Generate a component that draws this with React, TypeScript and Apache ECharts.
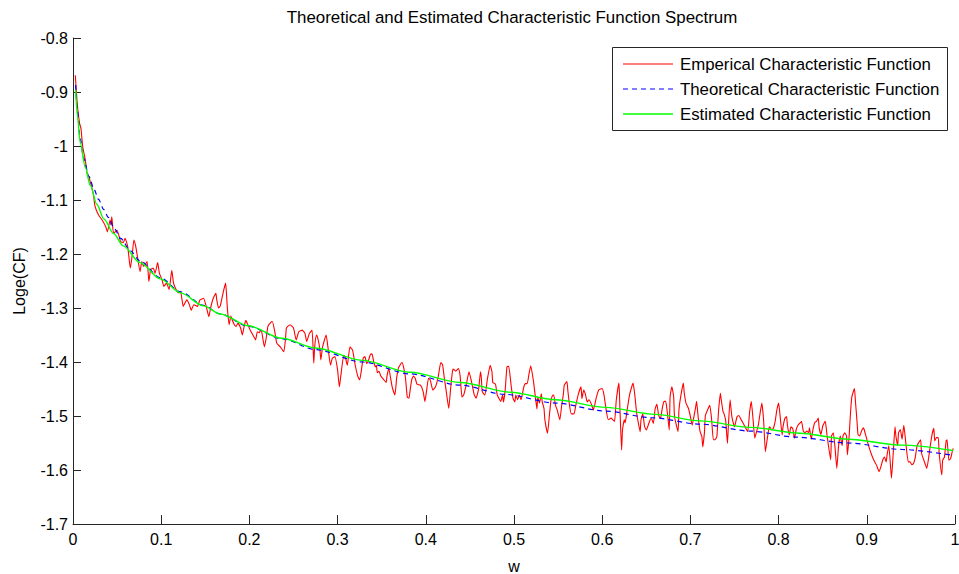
import React, { useEffect, useRef } from "react";
import * as echarts from "echarts";

const titleText = "Theoretical and Estimated Characteristic Function Spectrum";
const xName = "w";
const yName = "Loge(CF)";
const seriesNames = [
  "Emperical Characteristic Function",
  "Theoretical Characteristic Function",
  "Estimated Characteristic Function",
];

// [w, log CF]
const empiricalPoints: [number, number][] = [
  [0.0026, -0.869], [0.0045, -0.915], [0.0055, -0.933], [0.0075, -0.958], [0.009, -0.967],
  [0.011, -1.001], [0.014, -1.026], [0.016, -1.051], [0.018, -1.057], [0.02, -1.069],
  [0.023, -1.088], [0.025, -1.112], [0.029, -1.128], [0.033, -1.137], [0.037, -1.149],
  [0.039, -1.159], [0.042, -1.137], [0.043, -1.146], [0.044, -1.131], [0.046, -1.162],
  [0.05, -1.156], [0.054, -1.177], [0.057, -1.179], [0.059, -1.171], [0.062, -1.186],
  [0.065, -1.226], [0.067, -1.204], [0.069, -1.174], [0.071, -1.185], [0.073, -1.204],
  [0.076, -1.233], [0.078, -1.214], [0.08, -1.223], [0.084, -1.214], [0.086, -1.251],
  [0.088, -1.229], [0.091, -1.226], [0.093, -1.236], [0.096, -1.216], [0.098, -1.236],
  [0.101, -1.248], [0.103, -1.26], [0.106, -1.254], [0.109, -1.266], [0.112, -1.23],
  [0.114, -1.254], [0.117, -1.266], [0.12, -1.272], [0.122, -1.269], [0.125, -1.297],
  [0.129, -1.285], [0.132, -1.294], [0.134, -1.304], [0.137, -1.294], [0.141, -1.297],
  [0.144, -1.285], [0.148, -1.282], [0.151, -1.297], [0.154, -1.316], [0.156, -1.3],
  [0.159, -1.282], [0.162, -1.273], [0.163, -1.285], [0.165, -1.3], [0.167, -1.296],
  [0.169, -1.281], [0.171, -1.266], [0.173, -1.254], [0.174, -1.273], [0.175, -1.3],
  [0.177, -1.331], [0.179, -1.315], [0.181, -1.324], [0.183, -1.331], [0.185, -1.334],
  [0.187, -1.328], [0.19, -1.337], [0.192, -1.35], [0.194, -1.334], [0.196, -1.323],
  [0.199, -1.334], [0.201, -1.341], [0.204, -1.35], [0.207, -1.359], [0.209, -1.344],
  [0.211, -1.346], [0.213, -1.341], [0.214, -1.344], [0.217, -1.372], [0.219, -1.356],
  [0.221, -1.334], [0.224, -1.327], [0.226, -1.325], [0.229, -1.346], [0.231, -1.365],
  [0.235, -1.372], [0.239, -1.381], [0.241, -1.356], [0.242, -1.337], [0.246, -1.331],
  [0.25, -1.337], [0.253, -1.359], [0.256, -1.344], [0.26, -1.341], [0.263, -1.347],
  [0.265, -1.362], [0.268, -1.347], [0.271, -1.341], [0.273, -1.402], [0.274, -1.372],
  [0.276, -1.35], [0.278, -1.359], [0.28, -1.378], [0.281, -1.396], [0.283, -1.372],
  [0.287, -1.35], [0.289, -1.372], [0.292, -1.406], [0.294, -1.393], [0.297, -1.39],
  [0.3, -1.415], [0.302, -1.446], [0.304, -1.421], [0.307, -1.387], [0.309, -1.393],
  [0.311, -1.406], [0.314, -1.372], [0.317, -1.378], [0.32, -1.406], [0.323, -1.427],
  [0.325, -1.433], [0.327, -1.415], [0.329, -1.393], [0.331, -1.39], [0.333, -1.403],
  [0.335, -1.397], [0.337, -1.387], [0.339, -1.385], [0.341, -1.4], [0.343, -1.409],
  [0.344, -1.406], [0.345, -1.42], [0.347, -1.417], [0.349, -1.426], [0.352, -1.432],
  [0.355, -1.438], [0.356, -1.426], [0.358, -1.411], [0.36, -1.429], [0.362, -1.447],
  [0.365, -1.461], [0.367, -1.429], [0.369, -1.411], [0.371, -1.405], [0.373, -1.401],
  [0.375, -1.411], [0.377, -1.43], [0.379, -1.465], [0.381, -1.467], [0.382, -1.455],
  [0.384, -1.433], [0.386, -1.426], [0.388, -1.43], [0.39, -1.441], [0.394, -1.443],
  [0.397, -1.455], [0.399, -1.473], [0.401, -1.452], [0.403, -1.43], [0.405, -1.433],
  [0.408, -1.452], [0.411, -1.446], [0.414, -1.428], [0.417, -1.401], [0.419, -1.405],
  [0.421, -1.43], [0.423, -1.452], [0.426, -1.486], [0.428, -1.452], [0.43, -1.42],
  [0.431, -1.413], [0.434, -1.417], [0.437, -1.412], [0.439, -1.427], [0.441, -1.465],
  [0.443, -1.461], [0.446, -1.441], [0.449, -1.418], [0.452, -1.438], [0.455, -1.461],
  [0.457, -1.467], [0.46, -1.449], [0.462, -1.418], [0.463, -1.43], [0.464, -1.455],
  [0.467, -1.461], [0.47, -1.43], [0.473, -1.406], [0.475, -1.418], [0.476, -1.438],
  [0.479, -1.441], [0.481, -1.461], [0.485, -1.473], [0.487, -1.461], [0.488, -1.474],
  [0.49, -1.452], [0.492, -1.409], [0.494, -1.408], [0.497, -1.447], [0.499, -1.468],
  [0.501, -1.474], [0.502, -1.461], [0.504, -1.47], [0.506, -1.461], [0.508, -1.47],
  [0.511, -1.447], [0.513, -1.44], [0.515, -1.44], [0.517, -1.422], [0.519, -1.407],
  [0.522, -1.435], [0.524, -1.461], [0.526, -1.487], [0.527, -1.465], [0.529, -1.476],
  [0.531, -1.459], [0.532, -1.474], [0.534, -1.486], [0.535, -1.507], [0.538, -1.532],
  [0.54, -1.501], [0.542, -1.47], [0.544, -1.461], [0.545, -1.461], [0.547, -1.48],
  [0.549, -1.489], [0.552, -1.507], [0.554, -1.481], [0.556, -1.459], [0.557, -1.443],
  [0.56, -1.436], [0.561, -1.452], [0.563, -1.481], [0.565, -1.496], [0.568, -1.496],
  [0.57, -1.481], [0.573, -1.459], [0.576, -1.446], [0.577, -1.468], [0.579, -1.452],
  [0.581, -1.46], [0.583, -1.474], [0.585, -1.47], [0.588, -1.479], [0.59, -1.489],
  [0.593, -1.468], [0.596, -1.452], [0.6, -1.449], [0.602, -1.461], [0.605, -1.494],
  [0.607, -1.507], [0.61, -1.504], [0.612, -1.507], [0.614, -1.51], [0.616, -1.47],
  [0.619, -1.439], [0.62, -1.481], [0.622, -1.563], [0.623, -1.526], [0.625, -1.507],
  [0.626, -1.513], [0.628, -1.492], [0.631, -1.461], [0.634, -1.443], [0.635, -1.439],
  [0.637, -1.461], [0.639, -1.494], [0.641, -1.513], [0.643, -1.529], [0.644, -1.507],
  [0.646, -1.496], [0.648, -1.519], [0.65, -1.526], [0.653, -1.513], [0.655, -1.505],
  [0.656, -1.505], [0.658, -1.514], [0.66, -1.487], [0.662, -1.478], [0.664, -1.499],
  [0.666, -1.505], [0.668, -1.487], [0.67, -1.473], [0.672, -1.473], [0.674, -1.496],
  [0.676, -1.526], [0.677, -1.464], [0.679, -1.446], [0.681, -1.464], [0.682, -1.501],
  [0.686, -1.529], [0.687, -1.489], [0.689, -1.464], [0.692, -1.439], [0.693, -1.457],
  [0.695, -1.476], [0.698, -1.487], [0.7, -1.501], [0.702, -1.517], [0.704, -1.501],
  [0.706, -1.483], [0.707, -1.473], [0.709, -1.505], [0.711, -1.529], [0.713, -1.538],
  [0.714, -1.557], [0.716, -1.529], [0.717, -1.499], [0.721, -1.483], [0.722, -1.48],
  [0.724, -1.505], [0.726, -1.544], [0.728, -1.544], [0.73, -1.538], [0.732, -1.489],
  [0.734, -1.458], [0.735, -1.47], [0.737, -1.492], [0.738, -1.495], [0.74, -1.508],
  [0.742, -1.551], [0.743, -1.52], [0.745, -1.47], [0.747, -1.501], [0.75, -1.52],
  [0.751, -1.514], [0.753, -1.501], [0.755, -1.499], [0.757, -1.505], [0.76, -1.514],
  [0.762, -1.52], [0.765, -1.529], [0.767, -1.495], [0.769, -1.473], [0.771, -1.505],
  [0.773, -1.541], [0.775, -1.529], [0.777, -1.517], [0.779, -1.495], [0.781, -1.476],
  [0.783, -1.508], [0.785, -1.566], [0.787, -1.544], [0.789, -1.523], [0.79, -1.52],
  [0.792, -1.526], [0.794, -1.523], [0.796, -1.511], [0.798, -1.489], [0.8, -1.476],
  [0.802, -1.505], [0.804, -1.535], [0.805, -1.52], [0.807, -1.505], [0.809, -1.501],
  [0.81, -1.517], [0.812, -1.535], [0.814, -1.52], [0.816, -1.523], [0.818, -1.541],
  [0.82, -1.525], [0.822, -1.517], [0.825, -1.512], [0.826, -1.51], [0.828, -1.528],
  [0.83, -1.531], [0.832, -1.528], [0.834, -1.531], [0.835, -1.522], [0.837, -1.543],
  [0.839, -1.525], [0.841, -1.512], [0.843, -1.51], [0.845, -1.504], [0.846, -1.522],
  [0.848, -1.534], [0.85, -1.519], [0.852, -1.512], [0.853, -1.51], [0.855, -1.537],
  [0.859, -1.581], [0.86, -1.537], [0.862, -1.531], [0.864, -1.559], [0.866, -1.597],
  [0.868, -1.555], [0.87, -1.537], [0.872, -1.555], [0.873, -1.537], [0.875, -1.531],
  [0.877, -1.537], [0.878, -1.572], [0.88, -1.537], [0.881, -1.508], [0.882, -1.483],
  [0.883, -1.465], [0.886, -1.449], [0.887, -1.47], [0.889, -1.512], [0.89, -1.534],
  [0.892, -1.537], [0.894, -1.528], [0.896, -1.522], [0.897, -1.525], [0.899, -1.537],
  [0.902, -1.555], [0.905, -1.57], [0.908, -1.582], [0.911, -1.591], [0.914, -1.603],
  [0.916, -1.594], [0.918, -1.582], [0.92, -1.576], [0.922, -1.585], [0.923, -1.572],
  [0.925, -1.555], [0.928, -1.615], [0.93, -1.568], [0.932, -1.52], [0.933, -1.537],
  [0.935, -1.555], [0.936, -1.531], [0.938, -1.525], [0.94, -1.543], [0.942, -1.517],
  [0.944, -1.546], [0.947, -1.585], [0.949, -1.585], [0.951, -1.59], [0.953, -1.588],
  [0.955, -1.576], [0.957, -1.555], [0.961, -1.544], [0.962, -1.568], [0.964, -1.579],
  [0.966, -1.588], [0.968, -1.597], [0.97, -1.579], [0.972, -1.555], [0.974, -1.534],
  [0.976, -1.523], [0.977, -1.546], [0.979, -1.54], [0.981, -1.54], [0.982, -1.568],
  [0.985, -1.609], [0.986, -1.582], [0.988, -1.576], [0.99, -1.546], [0.991, -1.544],
  [0.993, -1.582], [0.995, -1.579], [0.997, -1.565], [0.998, -1.56],
];

const theoreticalPoints: [number, number][] = [
  [0.003, -0.887], [0.005, -0.935], [0.008, -0.985], [0.012, -1.022], [0.018, -1.056],
  [0.024, -1.081], [0.029, -1.099], [0.035, -1.118], [0.04, -1.132], [0.047, -1.153],
  [0.054, -1.171], [0.065, -1.194], [0.076, -1.213], [0.099, -1.244], [0.122, -1.27],
  [0.148, -1.295], [0.167, -1.311], [0.199, -1.334], [0.237, -1.357], [0.275, -1.377],
  [0.328, -1.4], [0.382, -1.422], [0.439, -1.443], [0.49, -1.46], [0.547, -1.476],
  [0.604, -1.491], [0.655, -1.503], [0.711, -1.515], [0.768, -1.528], [0.819, -1.539],
  [0.879, -1.55], [0.94, -1.562], [0.998, -1.573],
];

const estimatedPoints: [number, number][] = [
  [0.003, -0.896], [0.005, -0.945], [0.0083, -0.995], [0.014, -1.04], [0.0196, -1.073],
  [0.027, -1.108], [0.035, -1.135], [0.046, -1.162], [0.057, -1.185], [0.076, -1.216],
  [0.099, -1.246], [0.122, -1.272], [0.148, -1.296], [0.167, -1.311], [0.199, -1.333],
  [0.237, -1.356], [0.275, -1.374], [0.328, -1.397], [0.382, -1.419], [0.439, -1.438],
  [0.496, -1.456], [0.547, -1.47], [0.604, -1.484], [0.66, -1.497], [0.711, -1.509],
  [0.768, -1.521], [0.824, -1.532], [0.879, -1.543], [0.94, -1.554], [0.998, -1.564],
];

const seriesColors = ["#ff0000", "#0000ff", "#00ff00"];

const FONT = "'Liberation Sans', Arial, Helvetica, sans-serif";

export default function App() {
  const ref = useRef<HTMLDivElement>(null);
  useEffect(() => {
    if (!ref.current) return;
    const chart = echarts.init(ref.current, null, { renderer: "svg" });
    const axisColor = "#262626";
    const legendX = 612;
    const legendY = 47;
    const rowH = 25;
    const legendElements: any[] = [
      {
        type: "rect",
        z: 100,
        shape: { x: legendX + 0.5, y: legendY + 0.5, width: 335, height: 83 },
        style: { fill: "#ffffff", stroke: axisColor, lineWidth: 1 },
      },
    ];
    seriesNames.forEach((name, i) => {
      const cy = legendY + 17 + i * rowH;
      legendElements.push({
        type: "line",
        z: 101,
        shape: { x1: legendX + 11, y1: cy, x2: legendX + 61, y2: cy },
        style: {
          stroke: seriesColors[i],
          lineWidth: i === 2 ? 1.4 : 1.2,
          lineDash: i === 1 ? [5, 4] : null,
        },
      });
      legendElements.push({
        type: "text",
        z: 101,
        x: legendX + 68,
        y: cy,
        style: {
          text: name,
          fontFamily: FONT,
          fontSize: 16.8,
          fill: "#000",
          textAlign: "left",
          textVerticalAlign: "middle",
        },
      });
    });
    chart.setOption({
      animation: false,
      backgroundColor: "#ffffff",
      textStyle: { fontFamily: FONT },
      grid: {
        left: 73,
        right: 4,
        top: 38,
        bottom: 50,
        containLabel: false,
        outerBoundsMode: "none",
      },
      graphic: [
        {
          type: "text",
          x: 512,
          y: 17,
          style: {
            text: titleText,
            fontFamily: FONT,
            fontSize: 16.9,
            fill: "#000",
            textAlign: "center",
            textVerticalAlign: "middle",
          },
        },
        ...legendElements,
      ],
      xAxis: {
        type: "value",
        min: 0,
        max: 1,
        interval: 0.1,
        name: xName,
        nameLocation: "middle",
        nameGap: 34,
        nameTextStyle: { fontFamily: FONT, fontSize: 16, color: "#000" },
        axisLine: { show: true, lineStyle: { color: axisColor, width: 1 } },
        axisTick: { show: true, inside: true, length: 9, lineStyle: { color: axisColor } },
        axisLabel: { margin: 7, fontFamily: FONT, fontSize: 16, color: "#000" },
        splitLine: { show: false },
      },
      yAxis: {
        type: "value",
        min: -1.7,
        max: -0.8,
        interval: 0.1,
        name: yName,
        nameLocation: "middle",
        nameGap: 46,
        nameTextStyle: { fontFamily: FONT, fontSize: 16, color: "#000" },
        axisLine: { show: true, lineStyle: { color: axisColor, width: 1 } },
        axisTick: { show: true, inside: true, length: 8, lineStyle: { color: axisColor } },
        axisLabel: { margin: 5, fontFamily: FONT, fontSize: 16, color: "#000" },
        splitLine: { show: false },
      },
      series: [
        {
          name: seriesNames[0],
          type: "line",
          data: empiricalPoints,
          symbol: "none",
          smooth: 0.15,
          lineStyle: { color: seriesColors[0], width: 1.1 },
        },
        {
          name: seriesNames[1],
          type: "line",
          data: theoreticalPoints,
          symbol: "none",
          smooth: 0.3,
          smoothMonotone: "x",
          lineStyle: { color: seriesColors[1], width: 1.2, type: [5, 4] },
        },
        {
          name: seriesNames[2],
          type: "line",
          data: estimatedPoints,
          symbol: "none",
          smooth: 0.3,
          smoothMonotone: "x",
          lineStyle: { color: seriesColors[2], width: 1.4 },
        },
      ],
    });
    return () => chart.dispose();
  }, []);
  return (
    <div
      ref={ref}
      style={{ position: "fixed", left: 0, top: 0, width: 959, height: 574, background: "#fff" }}
    />
  );
}
